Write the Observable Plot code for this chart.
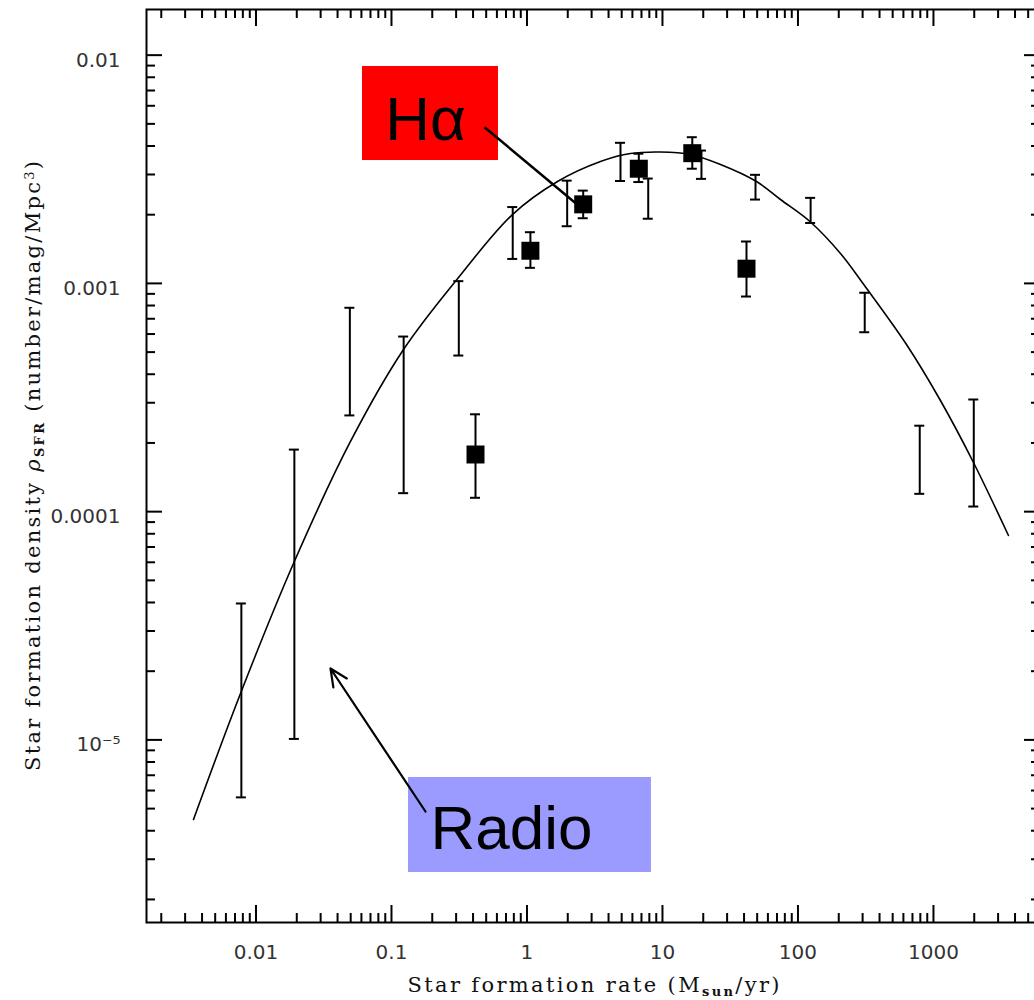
<!DOCTYPE html>
<html><head><meta charset="utf-8">
<script src="https://cdn.jsdelivr.net/npm/d3@7"></script>
<script src="https://cdn.jsdelivr.net/npm/@observablehq/plot@0.6"></script>
<style>
html,body{margin:0;padding:0;background:#fff;overflow:hidden;}
#chart svg{max-width:none !important;}
</style></head><body><div id="chart"></div>
<script>
// ---- Radio data (error bars only) ----
const radioX  = [0.0078, 0.0192, 0.0493, 0.123, 0.314, 0.785, 1.98, 4.90, 7.85, 19.4, 48.6, 124, 311, 792, 1984];
const radioHi = [3.96e-5, 1.87e-4, 7.82e-4, 5.85e-4, 1.023e-3, 2.16e-3, 2.82e-3, 4.13e-3, 2.88e-3, 3.82e-3, 2.99e-3, 2.37e-3, 9.10e-4, 2.38e-4, 3.10e-4];
const radioLo = [5.6e-6, 1.01e-5, 2.64e-4, 1.205e-4, 4.83e-4, 1.28e-3, 1.78e-3, 2.81e-3, 1.92e-3, 2.87e-3, 2.33e-3, 1.84e-3, 6.11e-4, 1.197e-4, 1.053e-4];

// ---- H-alpha data (squares with error bars) ----
const haX  = [0.417, 1.06, 2.60, 6.69, 16.6, 41.7];
const haY  = [1.78e-4, 1.39e-3, 2.22e-3, 3.18e-3, 3.72e-3, 1.16e-3];
const haHi = [2.67e-4, 1.676e-3, 2.55e-3, 3.70e-3, 4.37e-3, 1.526e-3];
const haLo = [1.15e-4, 1.17e-3, 1.93e-3, 2.78e-3, 3.18e-3, 8.76e-4];

// ---- Fitted curve ----
const fitX = [0.003458, 0.007687, 0.01891, 0.04983, 0.1227, 0.3124, 0.7818, 1.680, 3.487, 5.808, 9.669, 16.10, 26.81, 49.41, 74.30, 123.7, 206.0, 309.7, 632.3, 1126, 1974, 3578];
const fitY = [4.48e-6, 1.597e-5, 5.925e-5, 2.030e-4, 5.134e-4, 1.061e-3, 2.003e-3, 2.795e-3, 3.420e-3, 3.708e-3, 3.765e-3, 3.671e-3, 3.318e-3, 2.795e-3, 2.331e-3, 1.858e-3, 1.352e-3, 9.79e-4, 5.40e-4, 3.069e-4, 1.642e-4, 7.86e-5];

// ---- Ticks ----
const xMajorTicks = [0.01, 0.1, 1, 10, 100, 1000];
const xTickLabels = ["0.01", "0.1", "1", "10", "100", "1000"];
const yMajorTicks = [0.01, 0.001, 0.0001, 0.00001];
const yTickLabels = ["0.01", "0.001", "0.0001", "10⁻⁵"];

// ---- Texts ----
const xTitle = "Star formation rate (Msun/yr)";
const yTitle = "Star formation density ρSFR (number/mag/Mpc3)";
const annText = ["Hα", "Radio"];
// annotation anchors in data units
const annBoxX1 = [0.06109, 0.1335];
const annBoxX2 = [0.6163, 8.296];
const annBoxY1 = [3.454e-3, 2.625e-6];
const annBoxY2 = [8.92e-3, 6.845e-6];
const annTextX = [0.1782, 0.7685];
const annTextY = [4.257e-3, 3.31e-6];
const annLineX1 = [0.4859, 0.1782];
const annLineY1 = [4.835e-3, 4.857e-6];
const annLineX2 = [2.483, 0.03548];
const annLineY2 = [2.157e-3, 2.055e-5];
const annColors = ["#ff0000", "#9b9bff"];

// ---- layout ----
const W = 1045, H = 1000, mL = 146, mR = 5, mT = 9, mB = 78;
const plotW = W - mL - mR, plotH = H - mT - mB;
const xDomain = [10 ** -2.808, 10 ** 3.79];
const yDomain = [10 ** -5.8, 10 ** -1.8];

function minorTicks(lo, hi) {
  const t = [];
  for (let e = Math.floor(Math.log10(lo)); e <= Math.ceil(Math.log10(hi)); e++)
    for (let k = 2; k <= 9; k++) { const v = k * 10 ** e; if (v > lo && v < hi) t.push(v); }
  return t;
}
const xMinor = minorTicks(xDomain[0], xDomain[1]);
const yMinor = minorTicks(yDomain[0], yDomain[1]);

const radio = radioX.map((x, i) => ({x, lo: radioLo[i], hi: radioHi[i]}));
const ha = haX.map((x, i) => ({x, y: haY[i], lo: haLo[i], hi: haHi[i]}));
const fit = fitX.map((x, i) => ({x, y: fitY[i]}));
const ann = annText.map((t, i) => ({t, bx1: annBoxX1[i], bx2: annBoxX2[i], by1: annBoxY1[i], by2: annBoxY2[i],
  tx: annTextX[i], ty: annTextY[i], lx1: annLineX1[i], ly1: annLineY1[i], lx2: annLineX2[i], ly2: annLineY2[i], c: annColors[i]}));

const tickFont = "DejaVu Sans, sans-serif";
const titleFont = "DejaVu Serif, serif";

const chart = Plot.plot({
  width: W, height: H, marginLeft: mL, marginRight: mR, marginTop: mT, marginBottom: mB,
  x: {type: "log", domain: xDomain},
  y: {type: "log", domain: yDomain},
  style: {background: "#fff", overflow: "visible", maxWidth: "none"},
  marks: [
    Plot.rect(ann, {x1: "bx1", x2: "bx2", y1: "by1", y2: "by2", fill: "c"}),
    Plot.frame({stroke: "#000", strokeWidth: 2}),
    // bottom & top ticks
    Plot.ruleX(xMinor, {x: d => d, insetTop: plotH - 9, stroke: "#000", strokeWidth: 2}),
    Plot.ruleX(xMinor, {x: d => d, insetBottom: plotH - 9, stroke: "#000", strokeWidth: 2}),
    Plot.ruleX(xMajorTicks, {x: d => d, insetTop: plotH - 17, stroke: "#000", strokeWidth: 2}),
    Plot.ruleX(xMajorTicks, {x: d => d, insetBottom: plotH - 17, stroke: "#000", strokeWidth: 2}),
    // left & right ticks
    Plot.ruleY(yMinor, {y: d => d, insetRight: plotW - 9, stroke: "#000", strokeWidth: 2}),
    Plot.ruleY(yMinor, {y: d => d, insetLeft: plotW - 9, stroke: "#000", strokeWidth: 2}),
    Plot.ruleY(yMajorTicks, {y: d => d, insetRight: plotW - 16, stroke: "#000", strokeWidth: 2}),
    Plot.ruleY(yMajorTicks, {y: d => d, insetLeft: plotW - 16, stroke: "#000", strokeWidth: 2}),
    Plot.axisX({ticks: xMajorTicks, tickFormat: d => xTickLabels[xMajorTicks.indexOf(d)], tickSize: 0, tickPadding: 22,
      fontSize: 20, fontFamily: tickFont, fill: "#333", label: null, anchor: "bottom"}),
    Plot.axisY({ticks: yMajorTicks, tickFormat: d => yTickLabels[yMajorTicks.indexOf(d)], tickSize: 0, tickPadding: 26,
      fontSize: 20, fontFamily: tickFont, fill: "#333", label: null, anchor: "left", dy: 5}),
    // fitted curve
    Plot.line(fit, {x: "x", y: "y", curve: "catmull-rom", stroke: "#000", strokeWidth: 1.6}),
    // radio error bars
    Plot.ruleX(radio, {x: "x", y1: "lo", y2: "hi", stroke: "#000", strokeWidth: 2}),
    Plot.ruleY(radio, {y: "lo", x1: "x", x2: "x", insetLeft: -5, insetRight: -5, stroke: "#000", strokeWidth: 2}),
    Plot.ruleY(radio, {y: "hi", x1: "x", x2: "x", insetLeft: -5, insetRight: -5, stroke: "#000", strokeWidth: 2}),
    // H-alpha
    Plot.ruleX(ha, {x: "x", y1: "lo", y2: "hi", stroke: "#000", strokeWidth: 2}),
    Plot.ruleY(ha, {y: "lo", x1: "x", x2: "x", insetLeft: -5, insetRight: -5, stroke: "#000", strokeWidth: 2}),
    Plot.ruleY(ha, {y: "hi", x1: "x", x2: "x", insetLeft: -5, insetRight: -5, stroke: "#000", strokeWidth: 2}),
    Plot.dot(ha, {x: "x", y: "y", symbol: "square", r: 10.15, fill: "#000", stroke: "none"}),
    // annotations
    Plot.link(ann.slice(0, 1), {x1: "lx1", y1: "ly1", x2: "lx2", y2: "ly2", stroke: "#000", strokeWidth: 2.5}),
    Plot.arrow(ann.slice(1), {x1: "lx1", y1: "ly1", x2: "lx2", y2: "ly2", stroke: "#000", strokeWidth: 2.2, headLength: 13, headAngle: 50}),
    Plot.text(ann, {x: "tx", y: "ty", text: "t", textAnchor: "middle", lineAnchor: "bottom",
      fontSize: 62, fontFamily: "Liberation Sans, Arial, sans-serif", fill: "#000"}),
    // axis titles
    Plot.text([xTitle], {text: d => d, frameAnchor: "bottom", dy: 63, textAnchor: "middle", lineAnchor: "middle",
      fontSize: 21, fontFamily: titleFont, fill: "#111"}),
    Plot.text([yTitle], {text: d => d, frameAnchor: "left", dx: -113, rotate: -90, textAnchor: "middle", lineAnchor: "middle",
      fontSize: 21, fontFamily: titleFont, fill: "#111"})
  ]
});
chart.style.maxWidth = "none";
document.getElementById("chart").appendChild(chart);

// rich text (subscripts / superscripts) for the axis titles
const svg = d3.select(chart);
svg.selectAll("text").each(function () {
  const el = d3.select(this);
  if (this.textContent === xTitle) {
    el.text(null);
    el.append("tspan").text("Star formation rate (M");
    el.append("tspan").attr("baseline-shift", "-30%").attr("font-size", "62%").attr("font-weight", "bold").text("sun");
    el.append("tspan").text("/yr)");
    el.attr("textLength", 372).attr("lengthAdjust", "spacing");
  } else if (this.textContent === yTitle) {
    el.text(null);
    el.append("tspan").text("Star formation density ");
    el.append("tspan").attr("font-style", "italic").text("ρ");
    el.append("tspan").attr("baseline-shift", "-30%").attr("font-size", "62%").attr("font-weight", "bold").text("SFR");
    el.append("tspan").text(" (number/mag/Mpc");
    el.append("tspan").attr("baseline-shift", "45%").attr("font-size", "62%").text("3");
    el.append("tspan").text(")");
    el.attr("textLength", 610).attr("lengthAdjust", "spacing");
  }
});
</script>
</body></html>
